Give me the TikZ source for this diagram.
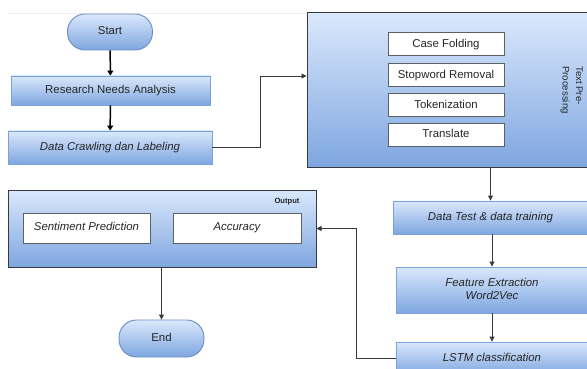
\documentclass[tikz,border=0pt]{standalone}
\usepackage{fontspec}
\setmainfont{Liberation Sans}
\usetikzlibrary{arrows.meta}
\definecolor{gradtop}{HTML}{DAE8FC}
\definecolor{gradbot}{HTML}{7EA6E0}
\definecolor{blueedge}{HTML}{6C8EBF}
\definecolor{darkedge}{HTML}{36393D}
\definecolor{txt}{HTML}{262626}
% strut that keeps every label optically centred in its box
\newcommand\boxstrut{\rule[-2.6pt]{0pt}{10.6pt}}
\tikzset{
  base/.style={font=\fontsize{11.4}{13.5}\selectfont, text=txt, inner sep=0pt, align=center},
  lbl/.style={base, execute at begin node=\boxstrut},
  bluebox/.style={lbl, draw=gradbot!80!blueedge, line width=0.9pt, top color=gradtop, bottom color=gradbot},
  pill/.style={bluebox, draw=blueedge, rounded corners=17.5pt},
  frame/.style={base, draw=darkedge, line width=1pt, top color=gradtop, bottom color=gradbot},
  whitebox/.style={lbl, draw=darkedge!80, line width=1pt, fill=white},
  ital/.style={font=\fontsize{11.4}{13.5}\selectfont\itshape},
  arr/.style={draw=darkedge, line width=0.9pt, -{Triangle[length=5pt,width=5pt]}},
  thickarr/.style={draw=black, line width=1.5pt, -{Triangle[length=5pt,width=6pt]}},
}
\begin{document}
\begin{tikzpicture}[x=1pt,y=-1pt]
\clip (0,0) rectangle (587,369);
\fill[white] (0,0) rectangle (587,369);
% faint page edge
\draw[gray!12, line width=0.8pt] (8,13) -- (307,13);

% left column
\node[pill, minimum width=85pt, minimum height=36pt] (start) at (110,32) {Start};
\node[bluebox, minimum width=199pt, minimum height=29pt] (research) at (110.5,90.5) {Research Needs Analysis};
\node[bluebox, ital, minimum width=204pt, minimum height=33pt] (crawl) at (110,147.5) {Data Crawling dan Labeling};

% text pre-processing block
\node[frame, minimum width=283pt, minimum height=154pt] (pre) at (448.5,90) {};
\node[whitebox, minimum width=116pt, minimum height=23pt] (fold) at (446,44.5) {Case Folding};
\node[whitebox, minimum width=116pt, minimum height=23pt] (stop) at (446,75.5) {Stopword Removal};
\node[whitebox, minimum width=116pt, minimum height=23pt] (tok) at (446,105.5) {Tokenization};
\node[whitebox, minimum width=116pt, minimum height=23pt] (trans) at (446,135) {Translate};
\node[base, rotate=-90, anchor=north, align=left, font=\fontsize{9.6}{13.5}\selectfont] (prelabel) at (583,90) {Text Pre-\\Processing};

% right column
\node[bluebox, ital, minimum width=195pt, minimum height=33pt] (split) at (490.5,217.5) {Data Test \& data training};
\node[bluebox, ital, minimum width=192pt, minimum height=46pt] (feat) at (492,290) {Feature Extraction\\Word2Vec};
\node[bluebox, ital, minimum width=192pt, minimum height=33pt] (lstm) at (492,358.5) {LSTM classification};

% output block
\node[frame, minimum width=308pt, minimum height=77pt] (out) at (162,228.5) {};
\node[base, font=\fontsize{7.6}{9}\selectfont\bfseries] (outlabel) at (287,202) {Output};
\node[whitebox, ital, minimum width=127pt, minimum height=30pt] (pred) at (86.5,228) {Sentiment Prediction};
\node[whitebox, ital, minimum width=128pt, minimum height=30pt] (acc) at (237,228) {Accuracy};
\node[pill, minimum width=85pt, minimum height=37pt] (end) at (161.5,338.5) {End};

% connectors
\coordinate (k1) at (260,76);
\coordinate (k2) at (356,228.5);
\draw[thickarr] (start) -- (research);
\draw[thickarr] (research) -- (crawl);
\draw[arr] (crawl.east) -| (k1) -- (k1 -| pre.west);
\draw[arr] (split.north |- pre.south) -- (split.north);
\draw[arr] (split.south -| feat.north) -- (feat.north);
\draw[arr] (feat.south) -- (lstm.north);
\draw[arr] (lstm.west) -| (k2) -- (out.east);
\draw[arr] (end.north |- out.south) -- (end.north);
\end{tikzpicture}
\end{document}
